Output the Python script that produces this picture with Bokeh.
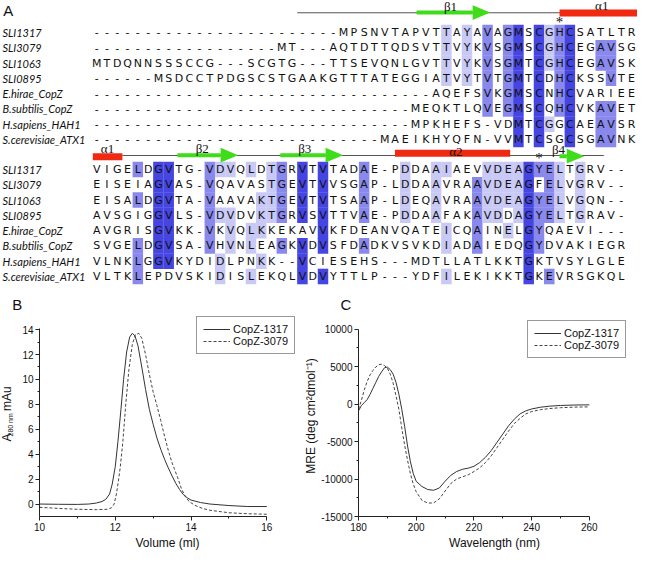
from collections import Counter
from math import pi
from bokeh.plotting import figure
from bokeh.models import Range1d, FixedTicker, Legend, LegendItem, NumeralTickFormatter
from bokeh.layouts import column, row
from bokeh.core.properties import value
from bokeh.embed import file_html
from bokeh.resources import INLINE

# ---------------- data ----------------
species = ["SLI1317", "SLI3079", "SLI1063", "SLI0895", "E.hirae_CopZ",
           "B.subtilis_CopZ", "H.sapiens_HAH1", "S.cerevisiae_ATX1"]

aln_block1 = [
    "-" * 24 + "MPSNVTAPVTTAYAVAGMSCGHCSATLTR",
    "-" * 18 + "MT---AQTDTTQDSVTTVYKVSGMSCGHCEGAVSG",
    "MTDQNNSSSCCG---SCGTG---TTSEVQNLGVTTVYKVSGMTCGHCEGAVSK",
    "------MSDCCTPDGSCSTGAAKGTTTATEGGIATVYTVTGMTCDHCKSSVTE",
    "-" * 33 + "AQEFSVKGMSCNHCVARIEE",
    "-" * 31 + "MEQKTLQVEGMSCQHCVKAVET",
    "-" * 31 + "MPKHEFS-VDMTCGGCAEAVSR",
    "-" * 28 + "MAEIKHYQFN-VVMTCSGCSGAVNK",
]
aln_block2 = [
    "VIGELDGVTG-VDVQLDTGRV" + "TVTADAE-PDDAAIAEVVDEAGYELTGRV--",
    "EISEIAGVAS-VQAVASTGEV" + "TVVSGAP-LDDAAVRAAVDEAGFELVGRV--",
    "EISALDGVTA-VAAVAKTGEV" + "TVTSAAP-LDEQAVRAAVDEAGYELVGQN--",
    "AVSGIGGVLS-VDVDVKTGRV" + "SVTTVAE-PDDAAFAKAVDDAGYELTGRAV-",
    "AVGRISGVKK-VKVQLKKEKA" + "VVKFDEANVQATEICQAINELGYQAEVI---",
    "SVGELDGVSA-VHVNLEAGKV" + "DVSFDADKVSVKDIADAIEDQGYDVAKIEGR",
    "VLNKLGGVKYDIDLPNKK--V" + "CIESEHS---MDTLLATLKKTGKTVSYLGLE",
    "VLTKLEPDVSKIDISLEKQLV" + "DVYTTLP---YDFILEKIKKTGKEVRSGKQL",
]

# secondary structure elements (alignment column spans)
ss1_kind = ["strand", "helix"]
ss1_name = ["\u03b21", "\u03b11"]
ss1_start = [32.1, 46.0]
ss1_end = [39.25, 53.6]
ss2_kind = ["helix", "strand", "strand", "helix", "strand"]
ss2_name = ["\u03b11", "\u03b22", "\u03b23", "\u03b12", "\u03b24"]
ss2_start = [0.62, 8.85, 18.85, 30.0, 46.0]
ss2_end = [3.5, 14.75, 24.95, 41.2, 48.4]
star_col1 = [46]
star_col2 = [44]

# size-exclusion chromatography (panel B)
sec_vol_1317 = [10.0, 10.5, 11.0, 11.3, 11.5, 11.65, 11.75, 11.85, 11.92, 12.0, 12.07, 12.15,
                12.22, 12.3, 12.38, 12.45, 12.52, 12.6, 12.7, 12.8, 12.9, 13.0, 13.1, 13.2,
                13.3, 13.4, 13.5, 13.6, 13.7, 13.8, 13.9, 14.0, 14.25, 14.5, 15.0, 15.5, 16.0]
sec_abs_1317 = [0.0, -0.02, -0.03, 0.0, 0.08, 0.2, 0.38, 0.8, 1.6, 3.0, 5.0, 7.6,
                10.0, 12.2, 13.4, 13.7, 13.5, 12.7, 11.0, 9.2, 7.6, 6.4, 5.3, 4.4,
                3.6, 2.9, 2.25, 1.65, 1.15, 0.75, 0.5, 0.32, 0.12, 0.0, -0.12, -0.2, -0.2]
sec_vol_3079 = [10.0, 10.5, 11.0, 11.5, 11.8, 11.9, 11.97, 12.03, 12.08, 12.13, 12.2, 12.28,
                12.36, 12.45, 12.53, 12.62, 12.7, 12.8, 12.9, 13.0, 13.1, 13.2, 13.3, 13.4,
                13.5, 13.56, 13.65, 13.75, 13.85, 13.95, 14.1, 14.3, 14.5, 15.0, 15.5, 16.0]
sec_abs_3079 = [-0.26, -0.35, -0.42, -0.45, -0.42, -0.3, 0.0, 0.8, 1.8, 2.9, 5.0, 8.1,
                10.8, 12.8, 13.6, 13.7, 13.3, 12.0, 10.4, 9.0, 7.9, 6.7, 5.46, 4.3,
                3.3, 2.83, 2.1, 1.2, 0.6, 0.2, -0.1, -0.35, -0.5, -0.7, -0.78, -0.82]

# circular dichroism (panel C)
cd_wl = [180, 181, 182, 183, 184, 185, 186, 187, 188, 189, 190, 191, 192, 193, 194, 195, 196,
         197, 198, 199, 200, 202, 204, 206, 208, 210, 212, 214, 216, 218, 220, 222, 224, 226,
         228, 230, 232, 234, 236, 238, 240, 243, 246, 250, 255, 260]
cd_1317 = [-900, -200, 200, 600, 1300, 2100, 2900, 3700, 4300, 4850, 4950, 4600, 4000, 2900,
           1300, -700, -3000, -5600, -7700, -9300, -10300, -11000, -11400, -11500, -11200,
           -10300, -9500, -9000, -8700, -8550, -8300, -7800, -7100, -6200, -5100, -4000,
           -2900, -2000, -1300, -900, -650, -420, -280, -180, -120, -100]
cd_3079 = [-700, 500, 1900, 3000, 3900, 4500, 4950, 5250, 5330, 5150, 4800, 4000, 2800, 1100,
           -700, -3200, -5500, -7500, -9300, -10700, -11700, -12850, -13200, -13200, -12650,
           -11600, -10600, -10000, -9700, -9450, -9000, -8500, -7800, -6900, -5800, -4700,
           -3600, -2600, -1900, -1300, -1000, -750, -600, -480, -400, -370]

series_names = ["CopZ-1317", "CopZ-3079"]
panel_letters = ["A", "B", "C"]

# ---------------- styles / layout constants ----------------
SHADE = ["#c9c9f6", "#8888ed", "#4545e2"]
GREEN = "#3fdc1a"
RED = "#f02a10"
SEQ_FONT = "DejaVu Sans"
LBL_FONT = "Lato"
AX_FONT = "Liberation Sans"
ROW_DY = 15.57
BLOCK_Y = [35.5, 175.0]
SS_LINE = [(20.5, 53.4, 15.5), (3.5, 50.3, 160.8)]
SS1_Y = [15.3, 15.8]
SS2_Y = [162.0, 160.5, 160.5, 158.5, 161.5]
SS1_LBL = [(35.4, 8.8), (50.1, 8.5)]
SS2_LBL = [(2.05, 153.5), (11.26, 154.0), (21.23, 154.0), (35.92, 157.0), (45.9, 155.0)]
STAR_Y = [25.0, 163.0]
HEAD = 1.7
LETTER_POS = [(-7.6, 13.5), (-6.73, 313.0), (25.24, 313.0)]


def shade_levels(rows):
    n = len(rows)
    L = len(rows[0])
    lev = [[0] * L for _ in range(n)]
    for c in range(L):
        col = [r[c] for r in rows]
        cnt = Counter(ch for ch in col if ch != "-").most_common()
        if not cnt:
            continue
        res, k = cnt[0]
        if len(cnt) > 1 and cnt[1][1] == k:
            continue
        f = k / n
        lv = 3 if f > 0.8 else 2 if f > 0.6 else 1 if f > 0.4 else 0
        for r in range(n):
            if col[r] == res:
                lev[r][c] = lv
    return lev


# ---------------- panel A (also carries the B / C letters) ----------------
pA = figure(width=637, height=313, x_range=Range1d(-8.352, 53.577), y_range=Range1d(321.67, 3.0),
            output_backend="svg", toolbar_location=None, x_axis_location=None,
            y_axis_location=None, min_border=0)
pA.outline_line_color = None
pA.grid.visible = False

sx, sy, st = [], [], []
rx, ry, rc = [], [], []
for b, rows in enumerate([aln_block1, aln_block2]):
    lev = shade_levels(rows)
    for r, seq in enumerate(rows):
        y = BLOCK_Y[b] + r * ROW_DY
        for c, ch in enumerate(seq):
            sx.append(c + 1)
            sy.append(y)
            st.append(ch)
            if lev[r][c]:
                rx.append(c + 1)
                ry.append(y)
                rc.append(SHADE[lev[r][c] - 1])

pA.rect(x=rx, y=ry, width=1.02, height=ROW_DY + 0.3, fill_color=rc, line_color=None)
pA.text(x=sx, y=sy, text=st, text_font=value(SEQ_FONT), text_font_size="11px",
        text_align="center", text_baseline="middle", text_color="#111111")

for b in range(2):
    ny = [BLOCK_Y[b] + r * ROW_DY for r in range(len(species))]
    pA.text(x=[-8.16] * len(species), y=ny, text=species, text_font=value(LBL_FONT),
            text_font_style="italic", text_font_size="11px", text_align="left",
            text_baseline="middle", text_color="#111111")

# secondary structure
pA.segment(x0=[s[0] for s in SS_LINE], y0=[s[2] for s in SS_LINE],
           x1=[s[1] for s in SS_LINE], y1=[s[2] for s in SS_LINE],
           line_color="#555555", line_width=1)
for kinds, starts, ends, ys, lbls, names in [
        (ss1_kind, ss1_start, ss1_end, SS1_Y, SS1_LBL, ss1_name),
        (ss2_kind, ss2_start, ss2_end, SS2_Y, SS2_LBL, ss2_name)]:
    for k, x0, x1, y in zip(kinds, starts, ends, ys):
        if k == "helix":
            pA.quad(left=[x0], right=[x1], top=[y - 3.6], bottom=[y + 3.6],
                    fill_color=RED, line_color=None)
        else:
            xh = x1 - HEAD
            pA.quad(left=[x0], right=[xh], top=[y - 2.0], bottom=[y + 2.0],
                    fill_color=GREEN, line_color=None)
            pA.patches(xs=[[xh, x1, xh]], ys=[[y - 7.5, y, y + 7.5]],
                       fill_color=GREEN, line_color=None)
    pA.text(x=[l[0] for l in lbls], y=[l[1] for l in lbls], text=names,
            text_font=value("Liberation Serif"), text_font_size="13px",
            text_align="center", text_baseline="middle", text_color="#111111")

pA.text(x=star_col1 + star_col2, y=[STAR_Y[0]] * len(star_col1) + [STAR_Y[1]] * len(star_col2),
        text=["*"] * (len(star_col1) + len(star_col2)), text_font=value("Liberation Serif"),
        text_font_size="15px", text_align="center", text_baseline="middle",
        text_color="#111111")

pA.text(x=[p[0] for p in LETTER_POS], y=[p[1] for p in LETTER_POS], text=panel_letters,
        text_font=value("Liberation Sans"), text_font_size="15px", text_align="center",
        text_baseline="middle", text_color="#111111")


def style_axes(p, xt, xm, yt, ym, xb, yb):
    p.xaxis.ticker = FixedTicker(ticks=xt, minor_ticks=xm)
    p.yaxis.ticker = FixedTicker(ticks=yt, minor_ticks=ym)
    p.xaxis.bounds = xb
    p.yaxis.bounds = yb
    p.grid.visible = False
    p.outline_line_color = None
    for ax in p.axis:
        ax.axis_line_color = "#222222"
        ax.major_tick_line_color = "#222222"
        ax.minor_tick_line_color = "#222222"
        ax.major_tick_out = 4
        ax.major_tick_in = 0
        ax.minor_tick_out = 2
        ax.minor_tick_in = 0
        ax.major_label_text_font = AX_FONT
        ax.major_label_text_font_size = "10px"
        ax.major_label_text_color = "#111111"
        ax.major_label_standoff = 2
        ax.axis_label_text_font = AX_FONT
        ax.axis_label_text_font_size = "12px"
        ax.axis_label_text_font_style = "normal"
        ax.axis_label_text_color = "#111111"
        ax.axis_label_standoff = 2


def add_legend(p, r1, r2, loc):
    leg = Legend(items=[LegendItem(label=series_names[0], renderers=[r1]),
                        LegendItem(label=series_names[1], renderers=[r2])],
                 location=loc, border_line_color="#333333", border_line_width=1,
                 background_fill_color="white", background_fill_alpha=1.0,
                 padding=6, spacing=0, margin=0, glyph_width=27, glyph_height=12,
                 label_height=12, label_standoff=3, label_text_font=AX_FONT,
                 label_text_font_size="11px", label_text_color="#111111")
    p.add_layout(leg)


# ---------------- strip with the panel-B y label ----------------
sB = figure(width=19, height=239, x_range=Range1d(0, 19), y_range=Range1d(0, 239),
            output_backend="svg", toolbar_location=None, x_axis_location=None,
            y_axis_location=None, min_border=0)
sB.outline_line_color = None
sB.grid.visible = False
for txt, xx, yy, fs in [("A", 6.9, 93.8, "12px"), ("280 nm", 9.8, 109.0, "7px"),
                        ("mAu", 6.9, 140.0, "12px")]:
    sB.text(x=[xx], y=[yy], text=[txt], angle=pi / 2, text_font=value(AX_FONT),
            text_font_size=fs, text_align="center", text_baseline="middle",
            text_color="#111111")

# ---------------- panel B ----------------
pB = figure(width=282, height=239, x_range=Range1d(10, 16.758), y_range=Range1d(-1, 15.13),
            output_backend="svg", toolbar_location=None,
            min_border_left=17, min_border_right=6, min_border_top=2, min_border_bottom=36)
b1 = pB.line(sec_vol_1317, sec_abs_1317, line_color="#333333", line_width=1)
b2 = pB.line(sec_vol_3079, sec_abs_3079, line_color="#444444", line_width=1, line_dash="3 2")
style_axes(pB, [10, 12, 14, 16], [11, 13, 15], [0, 2, 4, 6, 8, 10, 12, 14],
           [1, 3, 5, 7, 9, 11, 13], (10, 16), (-1, 14.1))
pB.xaxis.axis_label = "Volume (ml)"
add_legend(pB, b1, b2, (157, 162))

# ---------------- panel C ----------------
pC = figure(width=336, height=239, x_range=Range1d(180, 274.26), y_range=Range1d(-15000, 11826),
            output_backend="svg", toolbar_location=None,
            min_border_left=57, min_border_right=7, min_border_top=2, min_border_bottom=35)
c1 = pC.line(cd_wl, cd_1317, line_color="#333333", line_width=1)
c2 = pC.line(cd_wl, cd_3079, line_color="#444444", line_width=1, line_dash="3 2")
style_axes(pC, [180, 200, 220, 240, 260], [190, 210, 230, 250],
           [-15000, -10000, -5000, 0, 5000, 10000], [-12500, -7500, -2500, 2500, 7500],
           (180, 260), (-15000, 10000))
pC.yaxis.formatter = NumeralTickFormatter(format="0")
pC.xaxis.axis_label = "Wavelength (nm)"
pC.yaxis.axis_label = "MRE (deg cm\u00b2dmol\u207b\u00b9)"
pC.yaxis.axis_label_standoff = 0
add_legend(pC, c1, c2, (169, 158))

layout = column(pA, row(sB, pB, pC))
open("out.html", "w").write(file_html(layout, INLINE))
